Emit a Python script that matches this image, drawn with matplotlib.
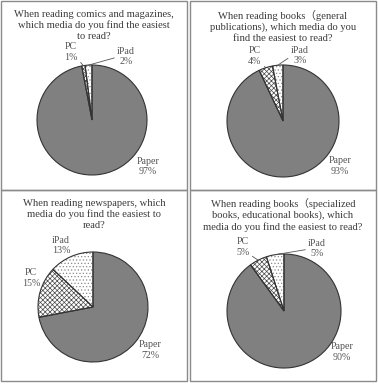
import numpy as np
import matplotlib
matplotlib.use("Agg")
import matplotlib.pyplot as plt
from matplotlib.patches import Rectangle

W, H = 378, 385

titles = [
    "When reading comics and magazines,\nwhich media do you find the easiest\nto read?",
    "When reading books\uff08general\npublications), which media do you\nfind the easiest to read?",
    "When reading newspapers, which\nmedia do you find the easiest to\nread?",
    "When reading books\uff08specialized\nbooks, educational books), which\nmedia do you find the easiest to read?",
]
media = ["Paper", "PC", "iPad"]
shares = [
    [97, 1, 2],
    [93, 4, 3],
    [72, 15, 13],
    [90, 5, 5],
]

# layout in pixels: panel boxes, pie centre / radius, title top
panels = [(1, 1, 187, 190), (190, 1, 376, 190), (1, 190, 187, 381), (190, 190, 376, 381)]
pies = [(92, 120, 55), (283, 121, 56), (93, 307, 55), (284, 311, 57)]
title_y = [10, 10, 199, 198]
# label positions in pie-radius units (Paper, PC, iPad) and whether a leader is drawn
label_pos = [
    [(1.02, -0.85), (-0.38, 1.24), (0.62, 1.16)],
    [(1.02, -0.80), (-0.50, 1.16), (0.30, 1.17)],
    [(1.04, -0.78), (-1.13, 0.53), (-0.58, 1.12)],
    [(1.02, -0.72), (-0.72, 1.12), (0.58, 1.10)],
]
leaders = [True, True, False, True]

plt.rcParams["font.family"] = ["Liberation Serif", "Noto Sans CJK JP", "DejaVu Sans"]
plt.rcParams["hatch.linewidth"] = 0.5

fig = plt.figure(figsize=(W / 100, H / 100), dpi=100)
fig.patch.set_facecolor("white")

for (x0, y0, x1, y1) in panels:
    fig.patches.append(Rectangle((x0 / W, 1 - y1 / H), (x1 - x0) / W, (y1 - y0) / H,
                                 transform=fig.transFigure, fill=False,
                                 edgecolor="#8a8a8a", linewidth=1.0))

for i in range(4):
    cx, cy, r = pies[i]
    px0, py0, px1, py1 = panels[i]
    fig.text(((px0 + px1) / 2) / W, 1 - title_y[i] / H, titles[i], ha="center", va="top",
             fontsize=7.6, color="#3a3a3a", linespacing=1.22)

    ax = fig.add_axes([(cx - r) / W, 1 - (cy + r) / H, 2 * r / W, 2 * r / H])
    # hatch layer first (hatch colour follows edge colour), outlines on top
    hatch_layer, _ = ax.pie(shares[i], startangle=90, counterclock=False,
                            colors=["#808080", "white", "white"],
                            wedgeprops=dict(linewidth=0))
    hatch_layer[1].set_hatch("xxxxxxx")
    hatch_layer[1].set_edgecolor("#4a4a4a")
    hatch_layer[2].set_hatch(".....")
    hatch_layer[2].set_edgecolor("#8a8a8a")
    wedges, _ = ax.pie(shares[i], startangle=90, counterclock=False,
                       colors=["none", "none", "none"],
                       wedgeprops=dict(edgecolor="#333333", linewidth=0.8))
    ax.set_xlim(-1, 1)
    ax.set_ylim(-1, 1)
    ax.axis("off")

    for j, w in enumerate(wedges):
        lx, ly = label_pos[i][j]
        txt = f"{media[j]}\n{shares[i][j]}%"
        if j > 0 and leaders[i]:
            ang = np.deg2rad((w.theta1 + w.theta2) / 2)
            ex, ey = np.cos(ang), np.sin(ang)
            rel = (0.95, 0.15) if j == 1 else (0.0, 0.45)
            ax.annotate(txt, xy=(ex, ey), xytext=(lx, ly), ha="center", va="center",
                        fontsize=7.2, color="#555555", linespacing=1.2,
                        annotation_clip=False,
                        arrowprops=dict(arrowstyle="-", color="#555555", linewidth=0.6,
                                        shrinkA=0, shrinkB=0, relpos=rel))
        else:
            ax.text(lx, ly, txt, ha="center", va="center", fontsize=7.2,
                    color="#555555", linespacing=1.2)

fig.savefig("out.png", dpi=100)
